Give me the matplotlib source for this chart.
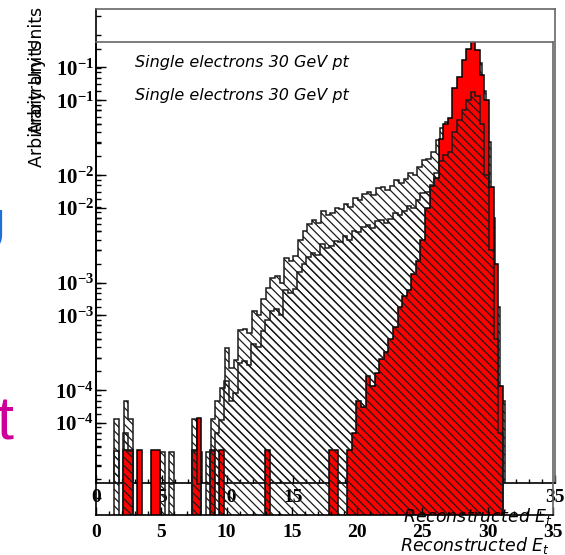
import numpy as np
import matplotlib
matplotlib.use('Agg')
import matplotlib.pyplot as plt
from matplotlib.ticker import FixedLocator, FixedFormatter, LogLocator, MultipleLocator, NullFormatter

plt.rcParams['mathtext.fontset'] = 'custom'
plt.rcParams['mathtext.bf'] = 'Liberation Serif:bold'
plt.rcParams['mathtext.rm'] = 'Liberation Serif:bold'
plt.rcParams['mathtext.it'] = 'DejaVu Sans:italic'
plt.rcParams['hatch.linewidth'] = 0.9

# histogram binning: 100 bins from 0 to 35 GeV
n_bins = 100
e_min, e_max = 0.0, 35.0

# hatched histogram (all reconstructed energies)
hatched = [
    0, 0, 0, 0, 5.4e-5, 0, 8.0e-5, 5.4e-5, 0, 0,
    0, 0, 0, 0, 2.7e-5, 0, 2.7e-5, 0, 0, 0,
    0, 5.4e-5, 2.7e-5, 0, 2.7e-5, 5.4e-5, 8.0e-5, 1.06e-4, 2.45e-4, 1.6e-4,
    1.9e-4, 3.6e-4, 3.7e-4, 3.4e-4, 5.4e-4, 5.0e-4, 7.1e-4, 8.9e-4, 1.1e-3, 1.15e-3,
    1.0e-3, 1.7e-3, 1.6e-3, 1.75e-3, 2.5e-3, 3.0e-3, 3.5e-3, 3.8e-3, 3.6e-3, 4.6e-3,
    4.2e-3, 4.4e-3, 4.9e-3, 4.8e-3, 5.4e-3, 5.0e-3, 6.1e-3, 5.9e-3, 6.6e-3, 6.9e-3,
    6.5e-3, 7.5e-3, 7.7e-3, 7.2e-3, 7.9e-3, 8.9e-3, 8.5e-3, 9.2e-3, 1.04e-2, 1.0e-2,
    1.18e-2, 1.37e-2, 1.4e-2, 1.62e-2, 2.1e-2, 2.7e-2, 3.1e-2, 3.3e-2, 5.0e-2, 6.5e-2,
    8.0e-2, 1.0e-1, 1.2e-1, 1.1e-1, 6.0e-2, 2.0e-2, 4.0e-3, 6.0e-4, 8.0e-5, 0,
    0, 0, 0, 0, 0, 0, 0, 0, 0, 0,
]

# red histogram (corrected energies)
red = [
    0, 0, 0, 0, 0, 0, 5.5e-5, 5.5e-5, 0, 5.5e-5,
    0, 0, 5.5e-5, 5.5e-5, 0, 0, 0, 0, 0, 0,
    0, 5.5e-5, 1.1e-4, 0, 0, 5.5e-5, 0, 5.5e-5, 0, 0,
    0, 0, 0, 0, 0, 0, 0, 5.5e-5, 0, 0,
    0, 0, 0, 0, 0, 0, 0, 0, 0, 0,
    0, 5.5e-5, 5.5e-5, 0, 0, 5.5e-5, 8.0e-5, 1.6e-4, 1.4e-4, 2.7e-4,
    2.2e-4, 2.9e-4, 3.9e-4, 4.5e-4, 6.0e-4, 7.7e-4, 1.2e-3, 1.5e-3, 1.7e-3, 2.4e-3,
    3.2e-3, 5.0e-3, 1.0e-2, 1.6e-2, 1.9e-2, 4.3e-2, 6.0e-2, 6.8e-2, 0.13, 0.165,
    0.235, 0.30, 0.35, 0.29, 0.17, 0.10, 0.0155, 0.003, 2.2e-4, 0,
    0, 0, 0, 0, 0, 0, 0, 0, 0, 0,
]

ytick_vals = [1e-4, 1e-3, 1e-2, 1e-1]
ytick_labels = [r'$\mathbf{10^{-4}}$', r'$\mathbf{10^{-3}}$', r'$\mathbf{10^{-2}}$', r'$\mathbf{10^{-1}}$']
xtick_vals = [0, 5, 10, 15, 20, 25, 30, 35]

edges = np.linspace(e_min, e_max, n_bins + 1)
floor = 1e-7

W, H = 565, 555
fig = plt.figure(figsize=(W / 100, H / 100), dpi=100)
fig.patch.set_facecolor('white')


def px_axes(left, top, right, bottom):
    return [left / W, 1 - bottom / H, (right - left) / W, (bottom - top) / H]


def setup(ax, xpad):
    ax.set_yscale('log')
    ax.set_xlim(e_min, e_max)
    ax.set_ylim(10 ** -4.86, 10 ** -0.46)
    ax.yaxis.set_major_locator(FixedLocator(ytick_vals))
    ax.yaxis.set_major_formatter(FixedFormatter(ytick_labels))
    ax.yaxis.set_minor_locator(LogLocator(base=10, subs=np.arange(2, 10)))
    ax.yaxis.set_minor_formatter(NullFormatter())
    ax.xaxis.set_major_locator(FixedLocator(xtick_vals))
    ax.xaxis.set_minor_locator(MultipleLocator(1))
    ax.tick_params(which='both', direction='in', top=False, right=False, width=1, color='black')
    ax.tick_params(axis='y', which='major', length=7, pad=1.5, labelsize=15)
    ax.tick_params(axis='y', which='minor', length=3.5)
    ax.tick_params(axis='x', which='major', length=6, pad=xpad)
    ax.tick_params(axis='x', which='minor', length=3)
    for lab in ax.get_xticklabels():
        lab.set_fontfamily('Liberation Serif')
        lab.set_fontweight('bold')
        lab.set_fontsize(14)
    for s in ['top', 'right']:
        ax.spines[s].set_color('#666666')
        ax.spines[s].set_linewidth(1.2)
    for s in ['left', 'bottom']:
        ax.spines[s].set_color('black')
        ax.spines[s].set_linewidth(1.2)


def draw_hatched(ax):
    ax.stairs(np.maximum(hatched, floor), edges, baseline=floor, fill=True,
              facecolor='none', edgecolor='#1a1a1a', hatch='\\\\\\\\', linewidth=1.1)


def draw_red(ax):
    ax.stairs(np.maximum(red, floor), edges, baseline=floor, fill=True,
              facecolor='#ff0000', edgecolor='black', linewidth=1.1)


# back copy (shifted up)
axA = fig.add_axes(px_axes(96, 9, 555, 483))
axA.set_facecolor('white')
draw_hatched(axA)
setup(axA, 4)

# front copy
axB = fig.add_axes(px_axes(96, 42, 553, 515))
axB.patch.set_alpha(0)
draw_red(axB)
draw_hatched(axB)
setup(axB, 6.5)


def ftext(x, y, s, **kw):
    fig.text(x / W, 1 - y / H, s, **kw)


for dy in [0, 33]:
    ftext(37, 7 + dy, 'Arbitrary Units', rotation=90, ha='center', va='top',
          fontsize=12.5, family='DejaVu Sans')
    ftext(135, 67 + dy, 'Single electrons 30 GeV pt', ha='left', va='baseline',
          fontsize=11.5, style='italic', family='DejaVu Sans')

ftext(553, 522, r'Reconstructed $E_t$', ha='right', va='baseline',
      fontsize=12.5, style='italic', family='DejaVu Sans')
ftext(550, 551, r'Reconstructed $E_t$', ha='right', va='baseline',
      fontsize=12.5, style='italic', family='DejaVu Sans')

# stray glyphs at left edge (cut off by the figure border)
ftext(-33, 249, 'U', ha='left', va='baseline', fontsize=38, color='#1f6fd8',
      family='DejaVu Sans')
ftext(-4, 440, 't', ha='left', va='baseline', fontsize=44, color='#cc0099',
      family='Liberation Sans')

fig.savefig('out.png', dpi=100)
